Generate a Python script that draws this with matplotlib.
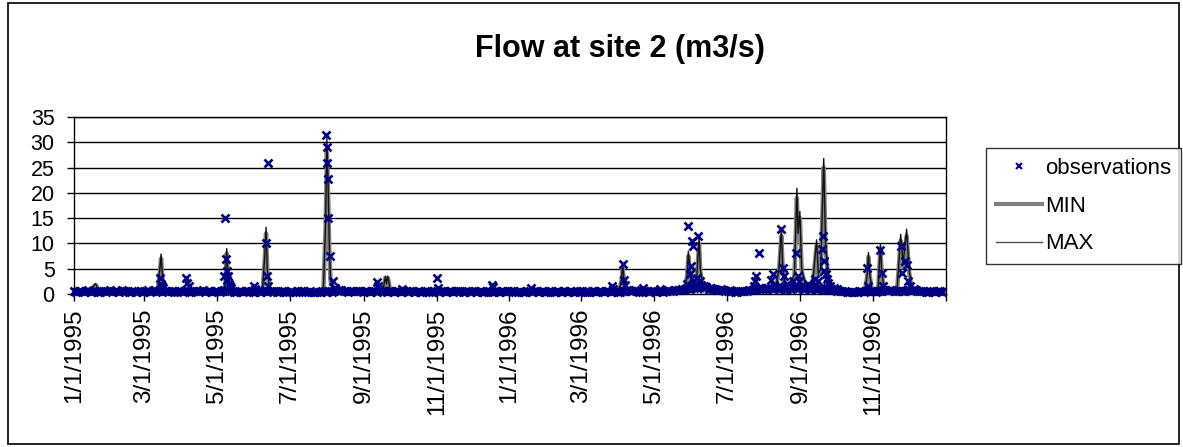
import numpy as np
import pandas as pd
import matplotlib
matplotlib.use("Agg")
import matplotlib.pyplot as plt
from matplotlib.patches import Rectangle

plt.rcParams['font.family'] = ['Liberation Sans', 'DejaVu Sans']

START = pd.Timestamp('1995-01-01')
title = "Flow at site 2 (m3/s)"
tick_dates = ['1995-01-01', '1995-03-01', '1995-05-01', '1995-07-01', '1995-09-01', '1995-11-01',
              '1996-01-01', '1996-03-01', '1996-05-01', '1996-07-01', '1996-09-01', '1996-11-01', '1997-01-01']
tick_labels = ['1/1/1995', '3/1/1995', '5/1/1995', '7/1/1995', '9/1/1995', '11/1/1995',
               '1/1/1996', '3/1/1996', '5/1/1996', '7/1/1996', '9/1/1996', '11/1/1996', '']

# MAX simulated flow (day offset from 1/1/1995, value)
max_day = [0, 15, 17, 18, 19, 21, 70, 72, 73, 74, 76, 80, 126, 127, 128, 129, 131, 135,
           158, 160, 161, 162, 164, 168, 209, 211, 212, 213, 214, 215, 217, 222,
           259, 260, 261, 262, 263, 264, 265, 319, 321, 322, 457, 459, 460, 461, 463,
           512, 514, 515, 516, 517, 519, 522, 524, 525, 527, 532, 540, 550,
           588, 591, 593, 594, 596, 600, 604, 606, 607, 608.5, 610, 613, 618, 620, 622.5, 624,
           626, 628.5, 630, 632, 635, 640, 650, 663, 665, 666, 667, 669, 674, 676, 677, 679,
           690, 693, 695, 698, 700, 702, 706, 730]
max_val = [0.5, 0.5, 1.8, 2.0, 1.7, 0.6, 0.5, 5.0, 7.9, 4.0, 1.0, 0.6, 0.6, 3.0, 9.0, 4.5, 1.2, 0.6,
           0.5, 8.0, 13.2, 5.0, 1.0, 0.5, 0.4, 15.0, 30.8, 22.0, 10.0, 3.0, 1.0, 0.6,
           0.5, 2.0, 3.5, 2.0, 3.5, 2.5, 0.7, 0.4, 1.0, 0.5, 0.5, 3.0, 5.7, 3.0, 0.8,
           0.8, 4.0, 8.5, 6.0, 3.0, 2.0, 3.0, 11.3, 5.0, 2.0, 1.2, 0.7, 0.5,
           0.8, 5.0, 13.0, 6.0, 2.0, 1.5, 4.0, 20.9, 12.0, 16.3, 5.0, 2.0, 1.5, 4.0, 10.7, 4.0,
           5.0, 26.8, 10.0, 4.0, 1.5, 0.7, 0.5, 0.5, 4.0, 8.2, 4.0, 0.8, 0.6, 9.9, 5.0, 1.0,
           0.8, 11.8, 6.0, 12.8, 5.0, 1.5, 0.7, 0.5]

# MIN simulated flow
min_day = max_day
min_val = [0.4, 0.4, 1.6, 1.8, 1.5, 0.5, 0.4, 4.5, 7.0, 3.5, 0.9, 0.5, 0.5, 2.7, 8.0, 4.0, 1.0, 0.5,
           0.4, 7.2, 12.0, 4.5, 0.9, 0.4, 0.3, 13.5, 28.0, 20.0, 9.0, 2.7, 0.9, 0.5,
           0.4, 1.8, 3.2, 1.8, 3.2, 2.2, 0.6, 0.3, 0.9, 0.4, 0.4, 2.7, 5.0, 2.7, 0.7,
           0.7, 3.6, 7.5, 5.4, 2.7, 1.8, 2.7, 10.0, 4.5, 1.8, 1.0, 0.6, 0.4,
           0.7, 4.5, 11.5, 5.4, 1.8, 1.3, 3.6, 19.0, 10.8, 15.0, 4.5, 1.8, 1.3, 3.6, 9.5, 3.6,
           4.5, 25.0, 9.0, 3.6, 1.3, 0.6, 0.4, 0.4, 3.6, 7.3, 3.6, 0.7, 0.5, 9.0, 4.5, 0.9,
           0.7, 10.5, 5.4, 11.5, 4.5, 1.3, 0.6, 0.4]

# observations: regular low-flow samples (days 0, 4, 8, ...)
base_obs_day_a = list(range(0, 729, 4))
base_obs_val_a = [
    0.6, 0.5, 0.4, 0.7, 0.5, 0.3, 0.6, 0.5, 0.4, 0.6, 0.7, 0.5, 0.3, 0.4, 0.6, 0.5, 0.4, 0.7, 0.8, 0.6,
    0.5, 0.4, 0.6, 0.5, 0.3, 0.5, 0.6, 0.7, 0.5, 0.4, 0.6, 0.5, 0.8, 0.6, 0.4, 0.5, 0.6, 0.5, 0.3, 0.4,
    0.7, 0.6, 0.5, 0.4, 0.5, 0.3, 0.4, 0.5, 0.6, 0.4, 0.3, 0.4, 0.5, 0.3, 0.4, 0.8, 0.7, 0.6, 0.5, 0.6,
    0.5, 0.6, 0.4, 0.5, 0.7, 0.6, 0.5, 0.4, 0.6, 0.5, 0.3, 0.5, 0.6, 0.4, 0.5, 0.4, 0.6, 0.5, 0.4, 0.5,
    0.6, 0.5, 0.4, 0.3, 0.5, 0.6, 0.4, 0.5, 0.3, 0.4, 0.5, 0.6, 0.5, 0.4, 0.3, 0.5, 0.4, 0.6, 0.5, 0.4,
    0.5, 0.4, 0.3, 0.5, 0.6, 0.4, 0.5, 0.3, 0.4, 0.6, 0.5, 0.4, 0.5, 0.6, 0.4, 0.5, 0.7, 0.6, 0.5, 0.4,
    0.5, 0.6, 0.4, 0.5, 0.6, 0.5, 0.7, 0.8, 0.9, 1.0, 1.2, 1.4, 1.2, 1.0, 0.9, 0.8, 0.7, 0.6, 0.5, 0.4,
    0.5, 0.6, 0.8, 1.0, 1.2, 0.9, 1.1, 1.3, 1.0, 0.8, 1.2, 1.4, 1.1, 0.9, 1.0, 1.2, 0.9, 0.8, 1.0, 0.8,
    0.6, 0.5, 0.4, 0.3, 0.4, 0.5, 0.6, 0.5, 0.4, 0.6, 0.7, 0.8, 0.6, 0.5, 0.6, 0.7, 0.8, 0.6, 0.5, 0.4,
    0.5, 0.6, 0.4]
# (days 2, 6, 10, ...)
base_obs_day_b = list(range(2, 727, 4))
base_obs_val_b = [
    0.4, 0.6, 0.5, 0.3, 0.6, 0.4, 0.5, 0.7, 0.5, 0.4, 0.6, 0.3, 0.5, 0.6, 0.4, 0.7, 0.5, 0.6, 0.4, 0.5,
    0.6, 0.3, 0.5, 0.7, 0.4, 0.6, 0.5, 0.4, 0.6, 0.5, 0.3, 0.7, 0.5, 0.4, 0.6, 0.4, 0.5, 0.3, 0.5, 0.6,
    0.4, 0.5, 0.3, 0.6, 0.4, 0.5, 0.3, 0.6, 0.4, 0.5, 0.4, 0.3, 0.6, 0.5, 0.6, 0.7, 0.5, 0.4, 0.6, 0.5,
    0.4, 0.5, 0.6, 0.4, 0.5, 0.3, 0.6, 0.5, 0.4, 0.6, 0.5, 0.4, 0.3, 0.6, 0.4, 0.5, 0.4, 0.6, 0.5, 0.3,
    0.5, 0.4, 0.6, 0.5, 0.4, 0.3, 0.6, 0.4, 0.5, 0.6, 0.4, 0.5, 0.3, 0.6, 0.4, 0.5, 0.6, 0.4, 0.3, 0.5,
    0.4, 0.6, 0.5, 0.3, 0.4, 0.6, 0.5, 0.4, 0.6, 0.3, 0.5, 0.6, 0.4, 0.5, 0.3, 0.6, 0.5, 0.7, 0.4, 0.6,
    0.4, 0.5, 0.6, 0.4, 0.7, 0.6, 0.8, 0.9, 1.1, 1.3, 1.1, 1.5, 1.3, 1.1, 0.8, 0.9, 0.6, 0.7, 0.4, 0.5,
    0.6, 0.7, 0.9, 1.1, 0.9, 1.2, 1.0, 1.4, 1.2, 0.9, 1.3, 1.0, 1.2, 1.1, 0.9, 1.0, 1.1, 0.9, 0.8, 0.7,
    0.5, 0.6, 0.3, 0.4, 0.5, 0.4, 0.5, 0.6, 0.5, 0.7, 0.6, 0.7, 0.5, 0.6, 0.7, 0.6, 0.7, 0.5, 0.4, 0.6,
    0.4, 0.5]

# observations: event samples
event_obs_day = [72, 73, 74, 75, 94, 95, 96,
                 126, 127, 127.5, 128, 128.5, 129, 130, 131, 132, 151, 152,
                 161, 162, 162.5, 163, 211, 212, 212.3, 213, 213.3, 215, 217, 219,
                 254, 255, 275, 304, 305, 350, 351, 383, 451, 452, 460, 461, 462, 477, 491,
                 514, 515, 516, 517, 518, 518.5, 520, 522, 523, 525, 526, 528, 530, 533, 536,
                 570, 571, 572, 574, 575, 584, 586, 587, 589, 593, 594, 595, 596, 598, 600, 603,
                 605, 607, 608, 610, 612, 615, 618, 621, 624, 626.7, 628, 628.5, 629, 630, 631,
                 632, 634, 637, 640, 665, 666, 676, 677, 678, 693, 694, 697, 698, 699, 701, 704]
event_obs_val = [3.2, 2.0, 1.5, 1.2, 3.2, 2.2, 1.5,
                 3.5, 15.0, 7.0, 4.5, 2.8, 3.5, 2.0, 1.5, 1.2, 1.5, 1.0,
                 10.0, 3.5, 26.0, 1.5, 31.5, 29.0, 26.0, 22.8, 15.0, 7.6, 2.6, 1.2,
                 2.4, 1.5, 1.0, 3.2, 1.2, 1.8, 1.3, 1.2, 1.5, 1.0, 5.9, 2.8, 1.8, 1.2, 1.0,
                 2.0, 13.5, 4.0, 5.5, 10.5, 9.4, 2.5, 3.2, 11.5, 2.5, 1.8, 1.5, 1.3, 1.2, 1.0,
                 1.5, 2.5, 3.6, 8.2, 1.2, 2.7, 3.9, 1.8, 1.2, 12.8, 5.1, 3.5, 1.5, 2.0, 1.2, 2.5,
                 8.2, 3.6, 2.5, 1.5, 1.2, 2.0, 1.5, 3.0, 2.5, 8.8, 11.5, 6.5, 4.5, 4.0, 3.0,
                 2.2, 1.5, 1.2, 1.0, 5.1, 1.5, 8.7, 4.1, 1.5, 9.4, 4.1, 6.5, 5.7, 2.5, 1.5, 1.0]

W, H = 1183, 447
fig = plt.figure(figsize=(W / 100, H / 100), dpi=100)
ax = fig.add_axes([74 / W, 1 - 294 / H, (946 - 74) / W, (294 - 117) / H])


def to_dates(days):
    return START + pd.to_timedelta(np.asarray(days, dtype=float), unit='D')


obs_days = base_obs_day_a + base_obs_day_b + event_obs_day
obs_vals = base_obs_val_a + base_obs_val_b + event_obs_val

ax.plot(to_dates(min_day), min_val, color='#808080', lw=3.2, zorder=3, solid_joinstyle='round')
ax.plot(to_dates(max_day), max_val, color='#111111', lw=1.0, zorder=4)
ax.plot(to_dates(obs_days), obs_vals, linestyle='none', marker='x', color='#000080',
        markersize=5.5, markeredgewidth=1.9, zorder=5, clip_on=False)

ax.set_ylim(0, 35)
ax.set_yticks(range(0, 36, 5))
ax.set_xlim(pd.Timestamp('1995-01-01'), pd.Timestamp('1997-01-01'))
ax.set_xticks(pd.to_datetime(tick_dates))
ax.set_xticklabels(tick_labels, rotation=90, fontsize=17.5)
ax.tick_params(axis='y', labelsize=15.5, length=5, width=1, pad=9, direction='out')
ax.tick_params(axis='x', length=5, width=1, pad=5.5, direction='out')
ax.yaxis.grid(True, color='black', lw=1)
ax.set_axisbelow(True)
for s in ax.spines.values():
    s.set_color('black')
    s.set_linewidth(1)

fig.text(620 / W, 1 - 49 / H, title, ha='center', va='center', fontsize=22, fontweight='bold')

# Legend
h_obs = plt.Line2D([], [], linestyle='none', marker='x', color='#000080', markersize=4.5, markeredgewidth=1.5)
h_min = plt.Line2D([], [], color='#808080', lw=3)
h_max = plt.Line2D([], [], color='#505050', lw=1)
leg = fig.legend([h_obs, h_min, h_max], ['observations', 'MIN', 'MAX'],
                 loc='upper left', bbox_to_anchor=(986 / W, 1 - 148 / H), bbox_transform=fig.transFigure,
                 frameon=True, fancybox=False, edgecolor='black', fontsize=16,
                 handlelength=2.05, handletextpad=0.15, labelspacing=0.75, borderpad=0.45,
                 borderaxespad=0)
leg.get_frame().set_linewidth(1)

# outer chart border
fig.patches.append(Rectangle((8 / W, 3 / H), (1179 - 8) / W, (444 - 3) / H, transform=fig.transFigure,
                             fill=False, edgecolor='black', lw=1.2))

fig.savefig('out.png', dpi=100)
